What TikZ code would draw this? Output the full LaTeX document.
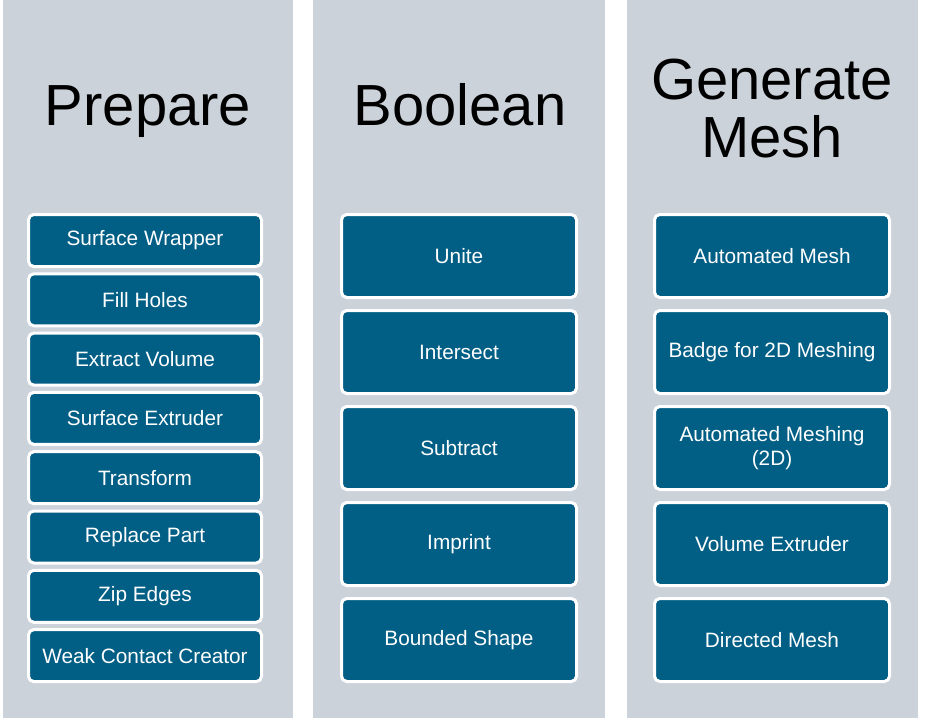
\documentclass[tikz,border=0pt]{standalone}
\usepackage{fontspec}
\setmainfont{Liberation Sans}
\usetikzlibrary{positioning}
\definecolor{panel}{HTML}{CCD2DA}
\definecolor{toolblue}{HTML}{015E85}
\tikzset{
  every node/.style={font=\fontsize{15.6}{18}\selectfont},
  heading/.style={anchor=base,text=black,align=center,
    font=\fontsize{43.5}{43}\selectfont},
  tool/.style={draw=white,line width=2.25pt,fill=toolblue,text=white,
    rounded corners=4pt,align=center,inner sep=0pt},
  toolsmall/.style={tool,minimum width=174.75pt,minimum height=39pt},
  toollarge/.style={tool,minimum width=176.25pt,minimum height=62.25pt}}

\begin{document}
\begin{tikzpicture}[x=0.75pt,y=-0.75pt]
\useasboundingbox (0,0) rectangle (952,718);
\fill[panel] (3,0) rectangle (293,718);
\fill[panel] (313,0) rectangle (605,718);
\fill[panel] (627,0) rectangle (918,718);
% headings
\node[heading] (hprep) at (148,125) {Prepare};
\node[heading] (hbool) at (460,125) {Boolean};
\node[heading] (hmesh) at (772,157) {Generate\\Mesh};
% prepare tools
\foreach \lbl [count=\i from 0] in {Surface Wrapper,Fill Holes,Extract Volume,
  Surface Extruder,Transform,Replace Part,Zip Edges,Weak Contact Creator}
  {\node[toolsmall] (prep\i) at (145,240.5+59.3*\i) {\lbl};}
% boolean tools
\foreach \lbl [count=\i from 0] in {Unite,Intersect,Subtract,Imprint,Bounded Shape}
  {\node[toollarge] (bool\i) at (459,256+96*\i) {\lbl};}
% mesh tools
\foreach \lbl [count=\i from 0] in {Automated Mesh,Badge for 2D Meshing,
  {Automated Meshing\\(2D)},Volume Extruder,Directed Mesh}
  {\node[toollarge] (mesh\i) at (772,256+96*\i) {\lbl};}
\end{tikzpicture}
\end{document}
